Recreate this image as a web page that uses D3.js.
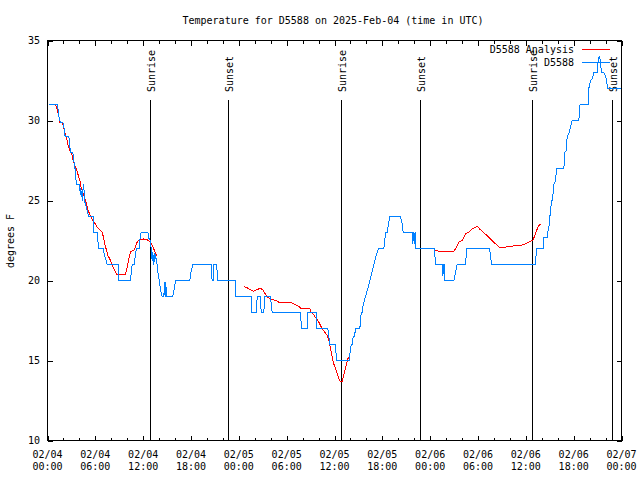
<!DOCTYPE html>
<html>
<head>
<meta charset="utf-8">
<script src="https://cdn.jsdelivr.net/npm/d3@7"></script>
<style>
  html, body { margin: 0; padding: 0; background: #fff; }
  svg { display: block; }
  text { font-family: "DejaVu Sans Mono", "Liberation Mono", monospace; font-size: 10px; fill: #000; }
</style>
</head>
<body>
<svg id="chart" width="640" height="480"></svg>
<script>
// ---- data (hours since 2025-02-04 00:00 UTC, degrees F) ----
const title = "Temperature for D5588 on 2025-Feb-04 (time in UTC)";
const yLabel = "degrees F";
const yTicks = [10, 15, 20, 25, 30, 35];
const xTickHours = [0, 6, 12, 18, 24, 30, 36, 42, 48, 54, 60, 66, 72];
const xTickDates = ["02/04","02/04","02/04","02/04","02/05","02/05","02/05","02/05","02/06","02/06","02/06","02/06","02/07"];
const xTickTimes = ["00:00","06:00","12:00","18:00","00:00","06:00","12:00","18:00","00:00","06:00","12:00","18:00","00:00"];
const sunriseHours = [12.92, 36.88, 60.84];
const sunsetHours = [22.70, 46.79, 70.87];
const seriesNames = ["D5588 Analysis", "D5588"];

const observed = [
 [0.17,31],[1.21,31],[1.30,30.8],[1.42,30.3],[1.55,30.0],[1.60,29.9],[1.92,29.9],[2.05,29.6],[2.15,29.2],[2.22,29],[2.68,29],[2.75,28.6],[2.80,28.4],[2.88,28],[3.18,28],[3.30,27.5],[3.45,27.0],[3.51,26.6],[3.64,26],[4.01,26],[4.10,25.5],[4.14,25.8],[4.22,25.2],[4.30,25.6],[4.35,25.0],[4.47,25.8],[4.56,26.0],[4.60,25.3],[4.64,25.0],[4.85,24.6],[5.06,24.2],[5.18,24],[5.73,24],[5.81,23],[6.23,23],[6.31,22.5],[6.44,22],[6.98,22],[7.15,21.6],[7.48,21],[8.87,21],[8.90,20],[10.41,20],[10.50,20.5],[10.62,21],[10.92,21],[11.00,21.6],[11.17,22],[11.50,22],[11.60,22.6],[11.75,23],[12.60,23],[12.70,22.6],[12.84,22.6],[12.92,22.3],[13.05,21.9],[13.13,21.2],[13.20,21.8],[13.34,21.0],[13.45,21.7],[13.60,21.4],[13.76,21.0],[13.88,20.4],[14.09,19.8],[14.17,19.4],[14.38,19.0],[14.60,19.0],[14.67,19.9],[14.75,19.0],[14.84,19.9],[14.92,19.0],[15.72,19.0],[15.90,19.5],[16.06,20],[17.85,20],[18.02,20.6],[18.23,21],[20.53,21],[20.60,20.3],[20.65,20],[20.78,20],[20.85,21],[21.20,21],[21.37,20],[23.58,20],[23.62,19],[25.55,19],[25.65,18],[26.22,18],[26.30,19],[26.72,19],[26.80,18],[27.13,18],[27.26,19],[27.97,19],[28.18,18],[31.74,18],[31.86,17],[32.57,17],[32.66,18],[33.74,18],[33.80,17],[35.17,17],[35.42,16],[36.13,16],[36.25,15],[37.88,15],[37.95,15.5],[38.09,16],[38.21,16],[38.35,16.5],[38.51,16.5],[38.64,17],[39.18,17],[39.26,17.5],[39.35,18],[39.47,18],[39.60,18.5],[39.89,19],[40.00,19.2],[40.20,19.5],[40.43,20],[40.60,20.3],[40.93,21],[41.20,21.5],[41.50,22],[42.19,22],[42.30,22.5],[42.40,23],[42.61,23],[42.80,23.6],[42.94,24],[44.28,24],[44.50,23.5],[44.61,23],[45.74,23],[45.80,22.3],[45.90,23],[46.00,22.3],[46.10,23],[46.20,22],[48.54,22],[48.67,21],[49.50,21],[49.60,20.3],[49.65,21],[49.75,20.3],[49.80,21],[49.84,20],[50.97,20],[51.39,21],[52.43,21],[52.60,22],[55.45,22],[55.70,21],[61.21,21],[61.34,22],[62.17,22],[62.25,22.7],[62.68,22.7],[62.75,23],[62.89,23.3],[63.00,24],[63.10,24.2],[63.20,25],[63.31,25],[63.45,25.6],[63.51,26],[63.72,26.2],[63.85,27],[64.77,27],[64.89,28],[65.06,28.1],[65.19,29],[65.40,29.2],[65.60,29.6],[65.81,30],[66.65,30],[66.80,31],[67.82,31],[67.90,32],[68.11,32.5],[68.32,32.6],[68.53,33],[68.95,33],[69.03,33.6],[69.20,34],[69.28,34],[69.37,33.5],[69.50,33],[69.78,33],[70.00,32.8],[70.29,32],[71.90,32]
];

const analysisPart1 = [
 [0.17,31.0],[1.0,31.0],[1.13,30.83],[1.42,30.31],[1.55,29.9],[1.84,29.9],[1.97,29.69],[2.13,29.38],[2.26,29.06],[2.47,28.75],[2.59,28.44],[2.80,28.13],[2.97,28.0],[3.09,27.81],[3.22,27.5],[3.43,27.19],[3.64,26.98],[3.80,26.67],[4.06,26.25],[4.22,25.83],[4.47,25.42],[4.77,25.0],[4.98,24.58],[5.18,24.27],[5.39,24.06],[5.60,23.85],[5.81,23.65],[6.02,23.54],[6.23,23.33],[6.44,23.23],[6.65,23.13],[6.86,23.02],[7.07,22.6],[7.19,22.29],[7.40,21.88],[7.57,21.56],[7.70,21.46],[7.90,21.25],[8.11,20.94],[8.32,20.73],[8.53,20.52],[8.66,20.38],[9.79,20.38],[10.0,20.83],[10.2,21.35],[10.41,21.81],[10.83,21.88],[11.04,22.13],[11.25,22.40],[11.46,22.54],[11.67,22.54],[12.08,22.6],[12.50,22.54],[12.92,22.40],[13.33,21.98],[13.55,21.67],[13.76,21.5]
];
const analysisPart2 = [
 [24.62,19.62],[25.05,19.54],[25.46,19.42],[25.80,19.33],[26.09,19.38],[26.51,19.48],[26.81,19.48],[27.06,19.38],[27.35,19.13],[27.56,18.96],[27.97,18.85],[28.39,18.79],[28.81,18.71],[29.01,18.65],[29.44,18.6],[30.69,18.6],[31.11,18.48],[31.52,18.38],[31.74,18.27],[32.36,18.23],[32.90,18.23],[33.08,18.02],[33.40,17.85],[33.74,17.6],[34.03,17.4],[34.24,17.19],[34.46,16.98],[34.78,16.77],[35.09,16.56],[35.29,16.25],[35.50,15.73],[35.71,15.21],[35.91,14.79],[36.13,14.48],[36.34,14.17],[36.54,13.85],[36.75,13.69],[36.96,13.69],[37.09,13.96],[37.26,14.27],[37.47,14.69],[37.67,15.1],[37.88,15.25]
];
const analysisPart3 = [
 [48.67,21.88],[49.30,21.81],[50.97,21.81],[51.18,21.98],[51.59,22.40],[52.02,22.5],[52.43,22.92],[52.85,23.02],[53.27,23.23],[53.69,23.33],[53.90,23.38],[54.31,23.17],[54.73,22.98],[55.16,22.81],[55.57,22.6],[55.98,22.40],[56.41,22.19],[56.74,22.04],[57.24,22.08],[58.08,22.13],[58.92,22.19],[59.75,22.23],[60.09,22.33],[60.59,22.46],[60.92,22.54],[61.21,22.92],[61.43,23.23],[61.63,23.44],[61.84,23.5]
];

// ---- layout ----
const svg = d3.select("#chart");
const L = 47.5, R = 621.5, T = 40.5, B = 440.5;
const x = d3.scaleLinear().domain([0, 72]).range([L, R]);
const y = d3.scaleLinear().domain([10, 35]).range([B, T]);
const red = "#ff0000", blue = "#0080ff";

// title
svg.append("text").attr("x", 333).attr("y", 24).attr("text-anchor", "middle").text(title);

// y axis label
svg.append("text").attr("transform", "translate(14,241) rotate(-90)")
  .attr("text-anchor", "middle").text(yLabel);

// axes (ticks only, frame drawn separately)
const minorHours = d3.range(0, 73, 2).filter(h => h % 6 !== 0);
function styleAxis(g) {
  g.select(".domain").remove();
  g.selectAll("line").attr("stroke", "#000").attr("shape-rendering", "crispEdges");
  g.selectAll("text").remove();
}
svg.append("g").attr("transform", `translate(0,${B})`)
  .call(d3.axisTop(x).tickValues(xTickHours).tickSize(5).tickSizeOuter(0)).call(styleAxis);
svg.append("g").attr("transform", `translate(0,${B})`)
  .call(d3.axisTop(x).tickValues(minorHours).tickSize(3).tickSizeOuter(0)).call(styleAxis);
svg.append("g").attr("transform", `translate(0,${T})`)
  .call(d3.axisBottom(x).tickValues(xTickHours).tickSize(5).tickSizeOuter(0)).call(styleAxis);
svg.append("g").attr("transform", `translate(0,${T})`)
  .call(d3.axisBottom(x).tickValues(minorHours).tickSize(3).tickSizeOuter(0)).call(styleAxis);
svg.append("g").attr("transform", `translate(${L},0)`)
  .call(d3.axisRight(y).tickValues(yTicks).tickSize(5).tickSizeOuter(0)).call(styleAxis);
svg.append("g").attr("transform", `translate(${R},0)`)
  .call(d3.axisLeft(y).tickValues(yTicks).tickSize(5).tickSizeOuter(0)).call(styleAxis);

// tick labels
yTicks.forEach(v => {
  svg.append("text").attr("x", 40).attr("y", y(v) + 3.5).attr("text-anchor", "end").text(v);
});
xTickHours.forEach((h, i) => {
  svg.append("text").attr("x", x(h)).attr("y", 457.5).attr("text-anchor", "middle").text(xTickDates[i]);
  svg.append("text").attr("x", x(h)).attr("y", 469.5).attr("text-anchor", "middle").text(xTickTimes[i]);
});

// frame
svg.append("rect").attr("x", L).attr("y", T).attr("width", R - L).attr("height", B - T)
  .attr("fill", "none").attr("stroke", "#000").attr("shape-rendering", "crispEdges");

// sunrise / sunset markers
const sunEvents = sunriseHours.map(h => ({h, label: "Sunrise"}))
  .concat(sunsetHours.map(h => ({h, label: "Sunset"})));
sunEvents.forEach(e => {
  const px = Math.round(x(e.h) - 0.5) + 0.5;
  svg.append("line").attr("x1", px).attr("x2", px).attr("y1", y(10)).attr("y2", y(31.3))
    .attr("stroke", "#000").attr("shape-rendering", "crispEdges");
  svg.append("text").attr("transform", `translate(${px + 4},92) rotate(-90)`)
    .attr("text-anchor", "start").text(e.label);
});

// data lines
const line = d3.line().x(d => x(d[0])).y(d => y(d[1]));
[analysisPart1, analysisPart2, analysisPart3].forEach(part => {
  svg.append("path").datum(part).attr("d", line)
    .attr("fill", "none").attr("stroke", red).attr("stroke-width", 1).attr("shape-rendering", "crispEdges");
});
svg.append("path").datum(observed).attr("d", line)
  .attr("fill", "none").attr("stroke", blue).attr("stroke-width", 1).attr("shape-rendering", "crispEdges");

// legend
const legendColors = [red, blue];
seriesNames.forEach((name, i) => {
  const ly = 49.5 + i * 13;
  svg.append("text").attr("x", 574).attr("y", ly + 3.5).attr("text-anchor", "end").text(name);
  svg.append("line").attr("x1", 582).attr("x2", 610).attr("y1", ly).attr("y2", ly)
    .attr("stroke", legendColors[i]).attr("shape-rendering", "crispEdges");
});
</script>
</body>
</html>
